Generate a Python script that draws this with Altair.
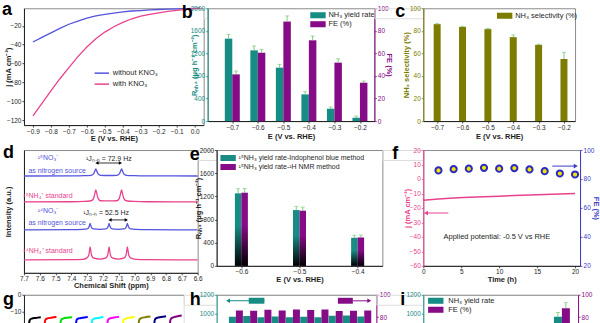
import altair as alt
import pandas as pd

FONT = "Liberation Sans"
INK = "#1e1e1e"
GRAY = "#8c8c8c"
TEAL = "#168c84"
PURPLE = "#860b86"
OLIVE = "#7c7c00"
PINK = "#e8428d"
BLUE = "#5454dc"
FBLUE = "#3a3ac8"
ERRC = "#70c870"
LS = 6.5
TS = 7.5
RECT = "M-1.4,-0.55H1.4V0.55H-1.4Z"
LINE = "M-1.2,0H1.2"

# ---------------- data ----------------
# (a) LSV
a_E = [-0.90, -0.85, -0.80, -0.75, -0.70, -0.65, -0.60, -0.55, -0.50, -0.45,
       -0.40, -0.35, -0.30, -0.25, -0.20, -0.15, -0.10, -0.05, 0.00, 0.03]
a_without = [-37.2, -32.3, -27.5, -22.8, -18.4, -15.1, -11.9, -9.5, -7.9, -6.7,
             -5.3, -4.4, -3.9, -3.2, -2.8, -2.5, -2.1, -1.8, -1.6, -1.4]
a_with = [-115.4, -102.0, -88.8, -76.0, -64.2, -52.6, -42.5, -33.7, -26.7, -21.0,
          -16.5, -12.6, -9.8, -7.9, -6.3, -4.9, -3.7, -2.6, -1.8, -1.4]
a_series = ["without KNO₃", "with KNO₃"]
a_xticks = [-0.9, -0.8, -0.7, -0.6, -0.5, -0.4, -0.3, -0.2, -0.1, 0.0]
a_yticks = [-120, -100, -80, -60, -40, -20]

# (b) yield rate & FE
b_E = [-0.7, -0.6, -0.5, -0.4, -0.3, -0.2]
b_yield = [1461, 1254, 947, 473, 219, 59]
b_yield_err = [77, 77, 59, 48, 30, 30]
b_fe = [41.4, 60.6, 88.2, 71.6, 51.8, 34.0]
b_fe_err = [3.0, 3.0, 5.0, 3.8, 3.5, 1.5]
b_series = ["NH₃ yield rate", "FE (%)"]
rate_ticks = [0, 400, 800, 1200, 1600, 2000]
pct_ticks = [0, 20, 40, 60, 80, 100]

# (c) selectivity
c_sel = [85.9, 83.5, 81.5, 74.4, 67.6, 55.0]
c_err = [0.7, 0.6, 0.6, 2.0, 0.6, 6.0]
c_series = ["NH₃ selectivity (%)"]

# (d) 1H NMR spectra
d_x_doublet = [7.70, 7.40, 7.32, 7.275, 7.259, 7.252, 7.245, 7.238, 7.231, 7.215, 7.163,
               7.112, 7.096, 7.089, 7.082, 7.075, 7.068, 7.052, 7.00, 6.92, 6.60]
d_y_s1 = [97.0, 97.1, 97.3, 97.7, 99.1, 101.6, 104.0, 101.6, 99.1, 97.7, 97.5,
          97.7, 99.1, 101.6, 104.0, 101.6, 99.1, 97.7, 97.3, 97.1, 97.0]
d_y_s2 = [71.0, 71.2, 71.5, 72.2, 74.6, 78.8, 83.0, 78.8, 74.6, 72.2, 72.0,
          72.2, 74.6, 78.8, 83.0, 78.8, 74.6, 72.2, 71.5, 71.2, 71.0]
d_x_triplet = [7.70, 7.40, 7.33, 7.301, 7.290, 7.285, 7.281, 7.277, 7.272, 7.261, 7.22,
               7.181, 7.170, 7.165, 7.161, 7.157, 7.152, 7.141, 7.103, 7.065, 7.054,
               7.049, 7.045, 7.041, 7.036, 7.025, 6.99, 6.92, 6.60]
d_y_s3 = [43.0, 43.2, 43.5, 44.0, 45.3, 47.5, 49.5, 47.5, 45.3, 44.0, 43.6,
          44.0, 45.3, 47.5, 49.5, 47.5, 45.3, 44.0, 43.6, 44.0, 45.3,
          47.5, 49.5, 47.5, 45.3, 44.0, 43.5, 43.2, 43.0]
d_y_s4 = [13.0, 13.2, 13.5, 15.0, 17.6, 22.1, 26.0, 22.1, 17.6, 15.0, 13.8,
          15.0, 17.6, 22.1, 26.0, 22.1, 17.6, 15.0, 13.8, 15.0, 17.6,
          22.1, 26.0, 22.1, 17.6, 15.0, 13.5, 13.2, 13.0]
d_ticks = [7.7, 7.6, 7.5, 7.4, 7.3, 7.2, 7.1, 7.0, 6.9, 6.8, 6.7, 6.6]
d_text = ["¹⁵NO₃⁻", "as nitrogen source", "¹⁵NH₄⁺ standard", "¹⁴NO₃⁻",
          "as nitrogen source", "¹⁴NH₄⁺ standard", "¹Jₙ₋ₕ = 72.9 Hz", "¹Jₙ₋ₕ = 52.5 Hz"]
d_text_x = [7.548, 7.49, 7.548, 7.548, 7.49, 7.548, 7.163, 7.18]
d_text_y = [115, 102, 77, 62, 50, 22, 114, 60]
d_text_c = [BLUE, BLUE, PINK, BLUE, BLUE, PINK, INK, INK]
d_arrow_x1 = [7.238, 7.155]
d_arrow_x2 = [7.089, 7.052]
d_arrow_y = [110, 53]

# (e) 15N yield rate two methods
e_E = [-0.6, -0.5, -0.4]
e_indo = [1252, 963, 484]
e_indo_err = [80, 65, 45]
e_nmr = [1263, 952, 490]
e_nmr_err = [72, 62, 40]
e_series = ["¹⁵NH₃ yield rate-Indophenol blue method", "¹⁵NH₃ yield rate-¹H NMR method"]

# (f) stability
f_t = [0, 2, 4, 6, 8, 10, 12, 14, 16, 18, 20]
f_j = [-14.7, -13.9, -13.2, -12.7, -12.3, -11.9, -11.5, -11.1, -10.8, -10.4, -10.1]
f_fe_t = [2, 4, 6, 8, 10, 12, 14, 16, 18, 20]
f_fe = [85.9, 86.8, 87.1, 87.7, 87.1, 87.5, 86.6, 85.4, 83.8, 83.1]
f_left_arrow = [3.3, 0.35, -23.5]
f_right_arrow = [17.0, 20.1, 88.9]
f_note = ["Applied potential: -0.5 V vs RHE", 9.7, -40.3]

# (g) cycling chronoamperometry (top part visible)
g_start = [0.6, 2.6, 4.6, 6.6, 8.6, 10.6, 12.6, 14.6, 16.6, 18.6]
g_dt = [0, 0.03, 0.08, 0.18, 0.4, 0.9, 1.55]
g_j = [
    [-30, -19.5, -16.0, -14.6, -14.0, -13.6, -13.2],
    [-30, -19.0, -15.8, -14.5, -13.9, -13.5, -13.1],
    [-30, -19.2, -15.9, -14.6, -14.0, -13.5, -13.2],
    [-30, -19.0, -15.7, -14.4, -13.9, -13.5, -13.0],
    [-30, -19.3, -15.9, -14.5, -14.0, -13.6, -13.1],
    [-30, -19.1, -15.8, -14.5, -13.9, -13.4, -13.0],
    [-30, -19.2, -15.9, -14.6, -14.0, -13.5, -13.1],
    [-30, -19.0, -15.6, -14.3, -13.7, -13.2, -12.8],
    [-30, -18.9, -15.5, -14.2, -13.6, -13.1, -12.6],
    [-30, -18.8, -15.4, -14.1, -13.4, -12.8, -12.2],
]
g_colors = ["#000000", "#ff0000", "#00e000", "#0000ff", "#00ffff",
            "#ff00ff", "#ffff00", "#808000", "#000080", "#800080"]

# (h) cycling yield/FE
h_cyc = [1, 2, 3, 4, 5, 6, 7, 8, 9, 10]
h_yield = [964, 971, 960, 967, 960, 964, 960, 975, 978, 967]
h_fe = [86.0, 85.7, 86.6, 86.0, 86.9, 86.3, 86.9, 85.4, 85.7, 86.0]
h_teal_arrow = [3.0, 0.45, 1136]
h_teal_box = [1.9, 3.0, 1104, 1168]
h_purple_arrow = [9.2, 10.35, 94.6]
h_purple_box = [8.15, 9.2, 92.0, 97.3]

# (i)
i_x = [6.0]
i_yield = [964]
i_yield_err = [45]
i_fe = [88.0]
i_fe_err = [5.0]

GRAD = alt.LinearGradient(
    gradient="linear",
    stops=[alt.GradientStop(color="rgba(0,0,0,0)", offset=0),
           alt.GradientStop(color="rgba(0,0,0,0)", offset=0.45),
           alt.GradientStop(color="#000000", offset=1)],
    x1=0, x2=0, y1=0, y2=1)


# ---------------- helpers ----------------
def axis(title=None, values=None, fmt=None, color=INK, orient=None, labels=True,
         ticks=True, title_x=None, title_y=None):
    kw = dict(title=title, domainColor=color, tickColor=color, labelColor=color,
              titleColor=color, labelFont=FONT, titleFont=FONT, labelFontSize=LS,
              titleFontSize=TS, titleFontWeight="bold", tickSize=2, labelPadding=1,
              titlePadding=1, grid=False, labels=labels, ticks=ticks, domainWidth=1,
              tickWidth=0.8, labelFlush=False, labelOverlap=False)
    if values is not None:
        kw["values"] = values
    if fmt is not None:
        kw["format"] = fmt
    if orient is not None:
        kw["orient"] = orient
    if title_x is not None:
        kw["titleX"] = title_x
    if title_y is not None:
        kw["titleY"] = title_y
    return alt.Axis(**kw)


def top_axis():
    return alt.Axis(orient="top", labels=False, ticks=False, title=None,
                    domainColor=GRAY, grid=False)


def legend(x, y, sym, size, offset, stroke_w=0, font=7.5):
    return alt.Legend(title=None, orient="none", legendX=x, legendY=y, symbolType=sym,
                      symbolSize=size, labelOffset=offset, labelFont=FONT,
                      labelFontSize=font, labelColor=INK, rowPadding=0, padding=0,
                      symbolStrokeWidth=stroke_w, labelLimit=300)


def letter(ch, dx, dy):
    return alt.Chart(pd.DataFrame({"t": [ch]})).mark_text(
        align="left", baseline="alphabetic", font=FONT, fontSize=18,
        fontWeight="bold", color="#000").encode(
        text="t:N", x=alt.value(dx), y=alt.value(dy))


def bar_group(df, xdef, yscale, yaxis, off, size, color_enc=None, color=None,
              grad=False, clip=False, err=True):
    base = alt.Chart(df)
    kw = dict(size=size, xOffset=off, clip=clip)
    if color is not None:
        kw["color"] = color
    enc = dict(x=xdef, y=alt.Y("v:Q", scale=yscale, axis=yaxis))
    if color_enc is not None:
        enc["color"] = color_enc
    layers = [base.mark_bar(**kw).encode(**enc)]
    if grad:
        layers.append(base.mark_bar(size=size, xOffset=off, color=GRAD, clip=clip).encode(
            x=xdef, y=alt.Y("v:Q", scale=yscale, axis=yaxis)))
    if err:
        layers.append(base.mark_rule(color=ERRC, strokeWidth=0.9, xOffset=off, clip=clip).encode(
            x=xdef, y=alt.Y("v:Q", scale=yscale, axis=yaxis), y2="hi:Q"))
        layers.append(base.mark_tick(color=ERRC, orient="horizontal", size=4, thickness=0.9,
                                     xOffset=off, clip=clip).encode(
            x=xdef, y=alt.Y("hi:Q", scale=yscale, axis=yaxis)))
    return alt.layer(*layers)


def spacer(w):
    return alt.Chart(pd.DataFrame({"v": [0]})).mark_point(opacity=0).encode(
        x=alt.X("v:Q", axis=None), y=alt.Y("v:Q", axis=None)).properties(width=w, height=10)


def frame():
    return alt.ViewBackground(stroke=GRAY, strokeWidth=1)


# ---------------- panel a ----------------
n_a = len(a_E)
dfa = pd.DataFrame({"E": a_E + a_E, "j": a_without + a_with,
                    "s": [a_series[0]] * n_a + [a_series[1]] * n_a})
a_chart = alt.layer(
    alt.Chart(dfa).mark_line(strokeWidth=1.3).encode(
        x=alt.X("E:Q", scale=alt.Scale(domain=[-0.95, 0.05], nice=False, zero=False),
                axis=axis("E (V vs. RHE)", a_xticks, ".1f", title_y=9.5)),
        y=alt.Y("j:Q", scale=alt.Scale(domain=[-125, -1.5], nice=False, zero=False),
                axis=axis("j (mA cm⁻²)", a_yticks, "d", title_x=-11.5)),
        color=alt.Color("s:N", scale=alt.Scale(domain=a_series, range=[BLUE, PINK]),
                        legend=legend(71, 58, LINE, 144, 4, 1.5)),
    ),
    letter("a", -22, 7),
).properties(width=180, height=117, view=frame())

# ---------------- panel b ----------------
xb = alt.X("E:Q", scale=alt.Scale(domain=[-0.777, -0.163], nice=False, zero=False),
           axis=axis("E (V vs. RHE)", b_E, ".1f", title_y=11.5))
b_cs = alt.Scale(domain=b_series, range=[TEAL, PURPLE])
b_leg = legend(105, 1.5, RECT, 121, 5)
dfb1 = pd.DataFrame({"E": b_E, "v": b_yield,
                     "hi": [v + e for v, e in zip(b_yield, b_yield_err)], "s": b_series[0]})
dfb2 = pd.DataFrame({"E": b_E, "v": b_fe,
                     "hi": [v + e for v, e in zip(b_fe, b_fe_err)], "s": b_series[1]})
b_chart = alt.layer(
    bar_group(dfb1, xb, alt.Scale(domain=[0, 2000], nice=False),
              axis("Rₙₕ₃ (μg h⁻¹ cm⁻²)", rate_ticks, "d", color=TEAL, title_x=-9),
              -3.75, 7.5, color_enc=alt.Color("s:N", scale=b_cs, legend=b_leg)),
    bar_group(dfb2, xb, alt.Scale(domain=[0, 100], nice=False),
              axis("FE (%)", pct_ticks, "d", color=PURPLE, orient="right", title_x=10),
              3.75, 7.5, color_enc=alt.Color("s:N", scale=b_cs, legend=b_leg)),
    letter("b", -26, 10),
).resolve_scale(y="independent").properties(width=167, height=113, view=frame())

# ---------------- panel c ----------------
xc = alt.X("E:Q", scale=alt.Scale(domain=[-0.735, -0.176], nice=False, zero=False),
           axis=axis("E (V vs. RHE)", b_E, ".1f", title_y=11.5))
dfc = pd.DataFrame({"E": b_E, "v": c_sel,
                    "hi": [v + e for v, e in zip(c_sel, c_err)], "s": c_series[0]})
c_chart = alt.layer(
    bar_group(dfc, xc, alt.Scale(domain=[0, 100], nice=False),
              axis("NH₃ selectivity (%)", pct_ticks, "d", color=OLIVE, title_x=-13),
              0, 7, color_enc=alt.Color("s:N", scale=alt.Scale(domain=c_series, range=[OLIVE]),
                                        legend=legend(76, 2, RECT, 121, 5))),
    letter("c", -28, 9),
).properties(width=152, height=113, view=frame())

# ---------------- panel d ----------------
dfd = pd.DataFrame({
    "ppm": d_x_doublet + d_x_doublet + d_x_triplet + d_x_triplet,
    "I": d_y_s1 + d_y_s2 + d_y_s3 + d_y_s4,
    "sp": ["s1"] * len(d_x_doublet) + ["s2"] * len(d_x_doublet)
          + ["s3"] * len(d_x_triplet) + ["s4"] * len(d_x_triplet),
})
xd_scale = alt.Scale(domain=[7.7, 6.6], nice=False, zero=False)
xd_axis = axis("Chemical Shift (ppm)", d_ticks, ".1f", title_y=8.5)
xd = alt.X("ppm:Q", scale=xd_scale, axis=xd_axis)
xd2 = alt.X("ppm2:Q", scale=xd_scale, axis=xd_axis)
yd = alt.Y("I:Q", scale=alt.Scale(domain=[0, 123], nice=False),
           axis=axis("Intensity (a.u.)", labels=False, ticks=False, title_x=-11.5))
dft = pd.DataFrame({"ppm": d_text_x, "I": d_text_y, "s": d_text, "c": d_text_c})
dfar = pd.DataFrame({"ppm": d_arrow_x1, "ppm2": d_arrow_x2, "I": d_arrow_y})
d_chart = alt.layer(
    alt.Chart(dfd).mark_line(strokeWidth=1.3, interpolate="monotone").encode(
        x=xd, y=yd,
        color=alt.Color("sp:N", scale=alt.Scale(domain=["s1", "s2", "s3", "s4"],
                                                range=[BLUE, PINK, BLUE, PINK]), legend=None)),
    alt.Chart(dft).mark_text(font=FONT, fontSize=7, align="center", baseline="middle").encode(
        x=xd, y=yd, text="s:N", color=alt.Color("c:N", scale=None)),
    alt.Chart(dfar).mark_rule(color="#000", strokeWidth=0.8).encode(x=xd, x2="ppm2:Q", y=yd),
    alt.Chart(dfar).mark_point(shape="triangle-left", filled=True, size=14, color="#000",
                               opacity=1).encode(x=xd, y=yd),
    alt.Chart(dfar).mark_point(shape="triangle-right", filled=True, size=14, color="#000",
                               opacity=1).encode(x=xd2, y=yd),
    letter("d", -21, 8),
).properties(width=174, height=123, view=frame())

# ---------------- panel e ----------------
xe = alt.X("E:Q", scale=alt.Scale(domain=[-0.634, -0.366], nice=False, zero=False),
           axis=axis("E (V vs. RHE)", e_E, ".1f", title_y=9.5))
ye_scale = alt.Scale(domain=[0, 2000], nice=False)
ye_axis = axis("Rₙₕ₃ (μg h⁻¹ cm⁻²)", rate_ticks, "d", title_x=-14.5)
e_cs = alt.Scale(domain=e_series, range=[TEAL, PURPLE])
e_leg = legend(6, 2.5, RECT, 121, 5, font=7)
dfe1 = pd.DataFrame({"E": e_E, "v": e_indo,
                     "hi": [v + e for v, e in zip(e_indo, e_indo_err)], "s": e_series[0]})
dfe2 = pd.DataFrame({"E": e_E, "v": e_nmr,
                     "hi": [v + e for v, e in zip(e_nmr, e_nmr_err)], "s": e_series[1]})
e_chart = alt.layer(
    bar_group(dfe1, xe, ye_scale, ye_axis, -3.25, 6.5,
              color_enc=alt.Color("s:N", scale=e_cs, legend=e_leg), grad=True),
    bar_group(dfe2, xe, ye_scale, ye_axis, 3.25, 6.5,
              color_enc=alt.Color("s:N", scale=e_cs, legend=e_leg), grad=True),
    letter("e", -27, 10),
).properties(width=166, height=116, view=frame())

# ---------------- panel f ----------------
xf_scale = alt.Scale(domain=[0, 20.66], nice=False, zero=False)
xf_axis = axis("Time (h)", [0, 5, 10, 15, 20], "d", title_y=9.5)
xf = alt.X("t:Q", scale=xf_scale, axis=xf_axis)
xf2 = alt.X("t2:Q", scale=xf_scale, axis=xf_axis)
yf1_scale = alt.Scale(domain=[-60, 20], nice=False, zero=False)
yf1_axis = axis("j (mA cm⁻²)", [-60, -50, -40, -30, -20, -10, 0, 10, 20], "d",
                color=PINK, title_x=-11.5)
yf2_scale = alt.Scale(domain=[20, 100], nice=False, zero=False)
yf2_axis = axis("FE (%)", [20, 40, 60, 80, 100], "d", color=FBLUE, orient="right", title_x=11)
yf1 = alt.Y("v:Q", scale=yf1_scale, axis=yf1_axis)
yf2 = alt.Y("v:Q", scale=yf2_scale, axis=yf2_axis)
df_fj = pd.DataFrame({"t": f_t, "v": f_j})
df_ffe = pd.DataFrame({"t": f_fe_t, "v": f_fe})
df_fla = pd.DataFrame({"t": [f_left_arrow[0]], "t2": [f_left_arrow[1]], "v": [f_left_arrow[2]]})
df_fra = pd.DataFrame({"t": [f_right_arrow[0]], "t2": [f_right_arrow[1]], "v": [f_right_arrow[2]]})
df_fnote = pd.DataFrame({"s": [f_note[0]], "t": [f_note[1]], "v": [f_note[2]]})
f_left = alt.layer(
    alt.Chart(df_fj).mark_line(color=PINK, strokeWidth=1.5).encode(x=xf, y=yf1),
    alt.Chart(df_fla).mark_rule(color=PINK, strokeWidth=1).encode(x=xf, x2="t2:Q", y=yf1),
    alt.Chart(df_fla).mark_point(shape="triangle-left", filled=True, size=22, color=PINK,
                                 opacity=1).encode(x=xf2, y=yf1),
    alt.Chart(df_fnote).mark_text(font=FONT, fontSize=7.5, color=INK).encode(x=xf, y=yf1, text="s:N"),
)
f_right = alt.layer(
    alt.Chart(df_ffe).mark_point(shape="circle", size=38, fill="#f2e600", stroke="#2b2bc4",
                                 strokeWidth=2, opacity=1, fillOpacity=1).encode(x=xf, y=yf2),
    alt.Chart(df_fra).mark_rule(color=FBLUE, strokeWidth=1).encode(x=xf, x2="t2:Q", y=yf2),
    alt.Chart(df_fra).mark_point(shape="triangle-right", filled=True, size=22, color=FBLUE,
                                 opacity=1).encode(x=xf2, y=yf2),
)
f_chart = alt.layer(f_left, f_right, letter("f", -31, 9)).resolve_scale(
    y="independent").properties(width=157, height=116, view=frame())

# ---------------- panel g ----------------
g_rows = []
for k in range(len(g_start)):
    for dt, jv in zip(g_dt, g_j[k]):
        g_rows.append({"t": g_start[k] + dt, "j": jv, "cyc": "c%d" % k})
dfg = pd.DataFrame(g_rows)
g_chart = alt.layer(
    alt.Chart(dfg).mark_line(strokeWidth=2, interpolate="monotone", clip=True).encode(
        x=alt.X("t:Q", scale=alt.Scale(domain=[0, 20.4], nice=False, zero=False), axis=top_axis()),
        y=alt.Y("j:Q", scale=alt.Scale(domain=[-18.8, 0], nice=False, zero=False),
                axis=axis(None, [0, -10], "d")),
        color=alt.Color("cyc:N", scale=alt.Scale(domain=["c%d" % k for k in range(10)],
                                                 range=g_colors), legend=None),
        detail="cyc:N"),
    letter("g", -21, 10),
).properties(width=160, height=32)

# ---------------- panel h ----------------
xh_scale = alt.Scale(domain=[0, 10.5], nice=False, zero=False)
xh = alt.X("n:Q", scale=xh_scale, axis=top_axis())
xh2 = alt.X("n2:Q", scale=xh_scale, axis=top_axis())
yh1_scale = alt.Scale(domain=[857, 1200], nice=False, zero=False)
yh1_axis = axis(None, [1000, 1200], "d", color=TEAL)
yh2_scale = alt.Scale(domain=[71.4, 100], nice=False, zero=False)
yh2_axis = axis(None, [80, 100], "d", color=PURPLE, orient="right")
dfh1 = pd.DataFrame({"n": h_cyc, "v": h_yield})
dfh2 = pd.DataFrame({"n": h_cyc, "v": h_fe})
df_hta = pd.DataFrame({"n": [h_teal_arrow[0]], "n2": [h_teal_arrow[1]], "v": [h_teal_arrow[2]]})
df_htb = pd.DataFrame({"n": [h_teal_box[0]], "n2": [h_teal_box[1]],
                       "v": [h_teal_box[2]], "v2": [h_teal_box[3]]})
df_hpa = pd.DataFrame({"n": [h_purple_arrow[0]], "n2": [h_purple_arrow[1]], "v": [h_purple_arrow[2]]})
df_hpb = pd.DataFrame({"n": [h_purple_box[0]], "n2": [h_purple_box[1]],
                       "v": [h_purple_box[2]], "v2": [h_purple_box[3]]})
yh1 = alt.Y("v:Q", scale=yh1_scale, axis=yh1_axis)
yh2 = alt.Y("v:Q", scale=yh2_scale, axis=yh2_axis)
h_left = alt.layer(
    alt.Chart(dfh1).mark_bar(size=7, xOffset=-3.5, color=TEAL, clip=True).encode(x=xh, y=yh1),
    alt.Chart(df_hta).mark_rule(color=TEAL, strokeWidth=1).encode(x=xh, x2="n2:Q", y=yh1),
    alt.Chart(df_hta).mark_point(shape="triangle-left", filled=True, size=20, color=TEAL,
                                 opacity=1).encode(x=xh2, y=yh1),
    alt.Chart(df_htb).mark_rect(color=TEAL).encode(x=xh, x2="n2:Q", y=yh1, y2="v2:Q"),
)
h_right = alt.layer(
    alt.Chart(dfh2).mark_bar(size=7, xOffset=3.5, color=PURPLE, clip=True).encode(x=xh, y=yh2),
    alt.Chart(df_hpa).mark_rule(color=PURPLE, strokeWidth=1).encode(x=xh, x2="n2:Q", y=yh2),
    alt.Chart(df_hpa).mark_point(shape="triangle-right", filled=True, size=20, color=PURPLE,
                                 opacity=1).encode(x=xh2, y=yh2),
    alt.Chart(df_hpb).mark_rect(color=PURPLE).encode(x=xh, x2="n2:Q", y=yh2, y2="v2:Q"),
)
h_chart = alt.layer(h_left, h_right, letter("h", -27, 10)).resolve_scale(
    y="independent").properties(width=160, height=32)

# ---------------- panel i ----------------
xi = alt.X("E:Q", scale=alt.Scale(domain=[0, 6.5], nice=False, zero=False), axis=top_axis())
i_cs = alt.Scale(domain=b_series, range=[TEAL, PURPLE])
i_leg = legend(7, 0.5, RECT, 121, 7)
dfi1 = pd.DataFrame({"E": i_x, "v": i_yield,
                     "hi": [v + e for v, e in zip(i_yield, i_yield_err)], "s": b_series[0]})
dfi2 = pd.DataFrame({"E": i_x, "v": i_fe,
                     "hi": [v + e for v, e in zip(i_fe, i_fe_err)], "s": b_series[1]})
i_chart = alt.layer(
    bar_group(dfi1, xi, yh1_scale, yh1_axis, -4, 8,
              color_enc=alt.Color("s:N", scale=i_cs, legend=i_leg), clip=True),
    bar_group(dfi2, xi, yh2_scale, yh2_axis, 4, 8,
              color_enc=alt.Color("s:N", scale=i_cs, legend=i_leg), clip=True),
    letter("i", -23, 10),
).resolve_scale(y="independent").properties(width=155, height=32)

# ---------------- layout ----------------
row1 = alt.hconcat(a_chart, spacer(4), b_chart, spacer(49), c_chart, spacing=0,
                   bounds="flush").resolve_scale(color="independent")
row2 = alt.hconcat(d_chart, spacer(19), e_chart, spacer(41), f_chart, spacing=0,
                   bounds="flush").resolve_scale(color="independent")
row3 = alt.hconcat(g_chart, spacer(33), h_chart, spacer(47), i_chart, spacing=0,
                   bounds="flush").resolve_scale(color="independent")

chart = alt.vconcat(row1, row2, row3, spacing=0).resolve_scale(color="independent").properties(
    padding={"left": 1, "top": 0, "right": 0, "bottom": 0}, background="white"
).configure_view(stroke=None).configure(font=FONT)

chart.save("out.html", embed_options={"renderer": "svg", "actions": False})
